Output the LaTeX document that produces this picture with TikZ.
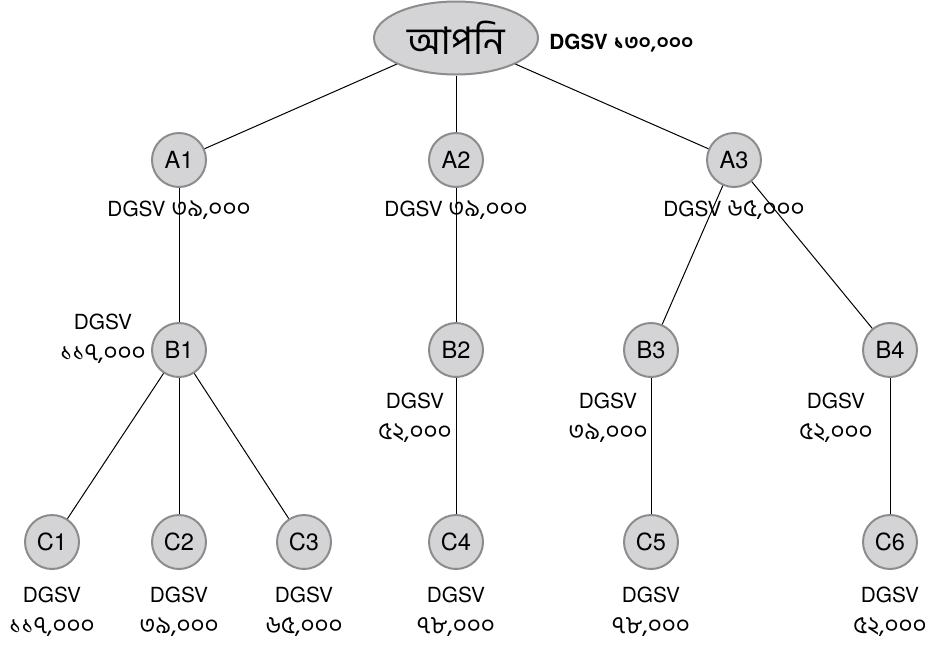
\documentclass[tikz,border=0pt]{standalone}
\usepackage{fontspec}
\setmainfont{TeX Gyre Heros}
\newfontfamily\bangla[Script=Bengali]{Hind Siliguri}
\newcommand{\bdigits}[1]{{\bangla\fontsize{12.2pt}{13pt}\selectfont #1}}
\usetikzlibrary{shapes.geometric, positioning}

\definecolor{nodefill}{RGB}{212,212,214}
\definecolor{nodeline}{RGB}{140,140,140}

\begin{document}
\begin{tikzpicture} [node distance = 95pt, on grid, auto,
	member/.style = {circle, draw = nodeline, fill = nodefill, line width = 1pt,
		minimum size = 27pt, inner sep = 0pt, font = \fontsize{11.8pt}{13pt}\selectfont},
	you/.style = {ellipse, draw = nodeline, fill = nodefill, line width = 1pt,
		minimum width = 82pt, minimum height = 36.5pt, inner sep = 0pt},
	dgsv/.style = {align = center, inner sep = 0pt, font = \fontsize{10.4pt}{15.5pt}\selectfont}]

\useasboundingbox (0,0) rectangle (466pt,-322pt);

\node (you) [you] at (228pt,-19pt) {\bangla\fontsize{19pt}{21pt}\selectfont আপনি};
\node (A2) [member, below = 61pt of you] {A2};
\node (A1) [member, left = 138.5pt of A2] {A1};
\node (A3) [member, right = 139pt of A2] {A3};

\node (B1) [member, below = of A1] {B1};
\node (B2) [member, below = of A2] {B2};
\node (B3) [member, below left = 95pt and 41.5pt of A3] {B3};
\node (B4) [member, below right = 95pt and 78pt of A3] {B4};

\node (C1) [member, below left = 96pt and 63.5pt of B1] {C1};
\node (C2) [member, below = 96pt of B1] {C2};
\node (C3) [member, below right = 96pt and 62.5pt of B1] {C3};
\node (C4) [member, below = 96pt of B2] {C4};
\node (C5) [member, below = 96pt of B3] {C5};
\node (C6) [member, below = 96pt of B4] {C6};

% sales volume labels
\node (youv) [dgsv, anchor = west, font = \fontsize{10.4pt}{13pt}\selectfont\bfseries]
	at ([xshift = 5pt, yshift = -2.5pt]you.east) {DGSV \bangla ১৩০,০০০};
\node (A1v) [dgsv, below = 25pt of A1] {DGSV \bdigits{৩৯,০০০}};
\node (A2v) [dgsv, below = 25pt of A2] {DGSV \bdigits{৩৯,০০০}};
\node (A3v) [dgsv, below = 25pt of A3] {DGSV \bdigits{৬৫,০০০}};
\node (B1v) [dgsv, above left = 5.5pt and 38pt of B1] {DGSV\\ \bdigits{১১৭,০০০}};
\node (B2v) [dgsv, below left = 33.7pt and 20.5pt of B2] {DGSV\\ \bdigits{৫২,০০০}};
\node (B3v) [dgsv, below left = 33.7pt and 21.5pt of B3] {DGSV\\ \bdigits{৩৯,০০০}};
\node (B4v) [dgsv, below left = 33.7pt and 27pt of B4] {DGSV\\ \bdigits{৫২,০০০}};
\node (C1v) [dgsv, below = 34.7pt of C1] {DGSV\\ \bdigits{১১৭,০০০}};
\node (C2v) [dgsv, below = 34.7pt of C2] {DGSV\\ \bdigits{৩৯,০০০}};
\node (C3v) [dgsv, below = 34.7pt of C3] {DGSV\\ \bdigits{৬৫,০০০}};
\node (C4v) [dgsv, below = 34.7pt of C4] {DGSV\\ \bdigits{৭৮,০০০}};
\node (C5v) [dgsv, below = 34.7pt of C5] {DGSV\\ \bdigits{৭৮,০০০}};
\node (C6v) [dgsv, below = 34.7pt of C6] {DGSV\\ \bdigits{৫২,০০০}};

\path [draw, line width = 0.5pt]
	(you) edge (A1)
	(you) edge (A2)
	(you) edge (A3)
	(A1) edge (B1)
	(A2) edge (B2)
	(A3) edge (B3)
	(A3) edge (B4)
	(B1) edge (C1)
	(B1) edge (C2)
	(B1) edge (C3)
	(B2) edge (C4)
	(B3) edge (C5)
	(B4) edge (C6);
\end{tikzpicture}
\end{document}
